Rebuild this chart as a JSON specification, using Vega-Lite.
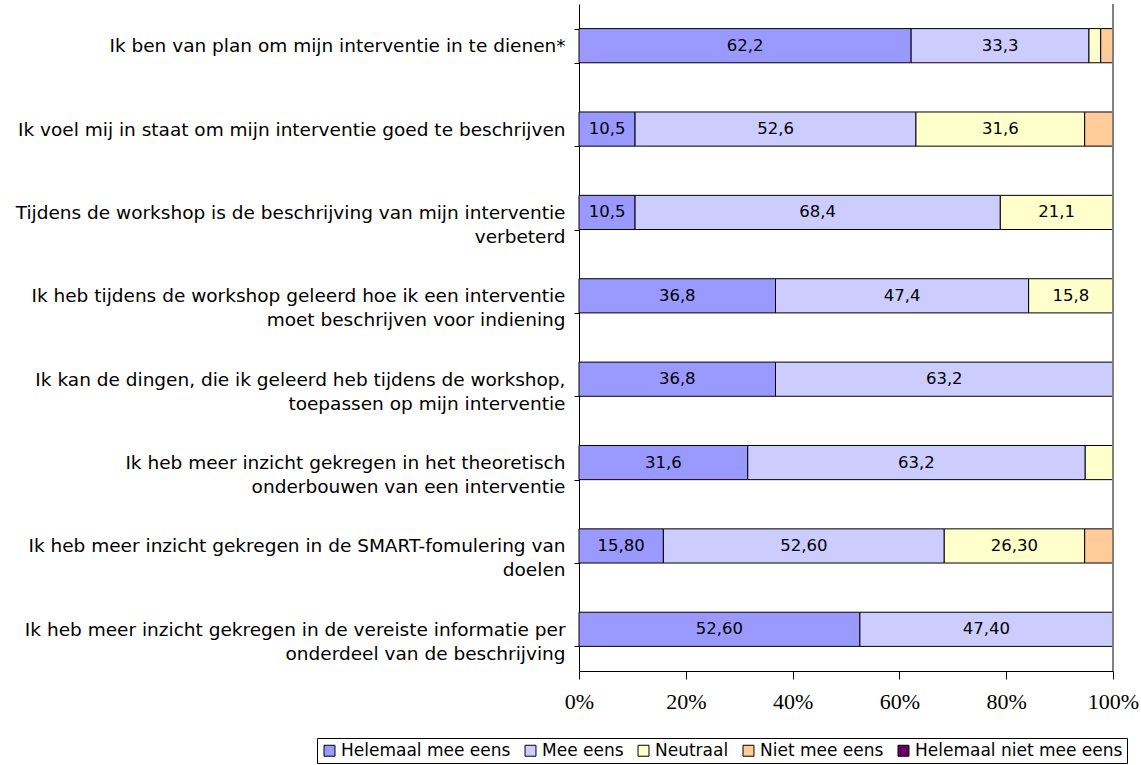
{
  "$schema": "https://vega.github.io/schema/vega-lite/v6.json",
  "autosize": "none",
  "width": 534,
  "height": 667,
  "padding": {"left": 579, "top": 4, "right": 28, "bottom": 94},
  "background": "white",
  "config": {"view": {"stroke": null}},
  "data": {"values": [
    {"cat": "Ik ben van plan om mijn interventie in te dienen*", "resp": "Helemaal mee eens", "ord": 1, "value": 62.2, "label": "62,2"},
    {"cat": "Ik ben van plan om mijn interventie in te dienen*", "resp": "Mee eens", "ord": 2, "value": 33.3, "label": "33,3"},
    {"cat": "Ik ben van plan om mijn interventie in te dienen*", "resp": "Neutraal", "ord": 3, "value": 2.2, "label": ""},
    {"cat": "Ik ben van plan om mijn interventie in te dienen*", "resp": "Niet mee eens", "ord": 4, "value": 2.3, "label": ""},
    {"cat": "Ik voel mij in staat om mijn interventie goed te beschrijven", "resp": "Helemaal mee eens", "ord": 1, "value": 10.5, "label": "10,5"},
    {"cat": "Ik voel mij in staat om mijn interventie goed te beschrijven", "resp": "Mee eens", "ord": 2, "value": 52.6, "label": "52,6"},
    {"cat": "Ik voel mij in staat om mijn interventie goed te beschrijven", "resp": "Neutraal", "ord": 3, "value": 31.6, "label": "31,6"},
    {"cat": "Ik voel mij in staat om mijn interventie goed te beschrijven", "resp": "Niet mee eens", "ord": 4, "value": 5.3, "label": ""},
    {"cat": "Tijdens de workshop is de beschrijving van mijn interventie|verbeterd", "resp": "Helemaal mee eens", "ord": 1, "value": 10.5, "label": "10,5"},
    {"cat": "Tijdens de workshop is de beschrijving van mijn interventie|verbeterd", "resp": "Mee eens", "ord": 2, "value": 68.4, "label": "68,4"},
    {"cat": "Tijdens de workshop is de beschrijving van mijn interventie|verbeterd", "resp": "Neutraal", "ord": 3, "value": 21.1, "label": "21,1"},
    {"cat": "Ik heb tijdens de workshop geleerd hoe ik een interventie|moet beschrijven voor indiening", "resp": "Helemaal mee eens", "ord": 1, "value": 36.8, "label": "36,8"},
    {"cat": "Ik heb tijdens de workshop geleerd hoe ik een interventie|moet beschrijven voor indiening", "resp": "Mee eens", "ord": 2, "value": 47.4, "label": "47,4"},
    {"cat": "Ik heb tijdens de workshop geleerd hoe ik een interventie|moet beschrijven voor indiening", "resp": "Neutraal", "ord": 3, "value": 15.8, "label": "15,8"},
    {"cat": "Ik kan de dingen, die ik geleerd heb tijdens de workshop,|toepassen op mijn interventie", "resp": "Helemaal mee eens", "ord": 1, "value": 36.8, "label": "36,8"},
    {"cat": "Ik kan de dingen, die ik geleerd heb tijdens de workshop,|toepassen op mijn interventie", "resp": "Mee eens", "ord": 2, "value": 63.2, "label": "63,2"},
    {"cat": "Ik heb meer inzicht gekregen in het theoretisch|onderbouwen van een interventie", "resp": "Helemaal mee eens", "ord": 1, "value": 31.6, "label": "31,6"},
    {"cat": "Ik heb meer inzicht gekregen in het theoretisch|onderbouwen van een interventie", "resp": "Mee eens", "ord": 2, "value": 63.2, "label": "63,2"},
    {"cat": "Ik heb meer inzicht gekregen in het theoretisch|onderbouwen van een interventie", "resp": "Neutraal", "ord": 3, "value": 5.2, "label": ""},
    {"cat": "Ik heb meer inzicht gekregen in de SMART-fomulering van|doelen", "resp": "Helemaal mee eens", "ord": 1, "value": 15.8, "label": "15,80"},
    {"cat": "Ik heb meer inzicht gekregen in de SMART-fomulering van|doelen", "resp": "Mee eens", "ord": 2, "value": 52.6, "label": "52,60"},
    {"cat": "Ik heb meer inzicht gekregen in de SMART-fomulering van|doelen", "resp": "Neutraal", "ord": 3, "value": 26.3, "label": "26,30"},
    {"cat": "Ik heb meer inzicht gekregen in de SMART-fomulering van|doelen", "resp": "Niet mee eens", "ord": 4, "value": 5.3, "label": ""},
    {"cat": "Ik heb meer inzicht gekregen in de vereiste informatie per|onderdeel van de beschrijving", "resp": "Helemaal mee eens", "ord": 1, "value": 52.6, "label": "52,60"},
    {"cat": "Ik heb meer inzicht gekregen in de vereiste informatie per|onderdeel van de beschrijving", "resp": "Mee eens", "ord": 2, "value": 47.4, "label": "47,40"}
  ]},
  "layer": [
    {
      "mark": {"type": "bar", "stroke": "black", "strokeWidth": 1},
      "encoding": {
        "y": {
          "field": "cat", "type": "nominal", "sort": null, "title": null,
          "scale": {"paddingInner": 0.59, "paddingOuter": 0.295},
          "axis": {
            "labelExpr": "split(datum.label, '|')",
            "labelFont": "DejaVu Sans", "labelFontSize": 18.5, "labelColor": "black",
            "labelLimit": 600, "labelLineHeight": 24, "labelPadding": 9,
            "tickBand": "extent", "tickSize": 5, "tickColor": "black",
            "domainColor": "black", "grid": false
          }
        },
        "x": {
          "field": "value", "type": "quantitative", "stack": "zero", "title": null,
          "scale": {"domain": [0, 100], "nice": false},
          "axis": {
            "values": [0, 20, 40, 60, 80, 100],
            "labelExpr": "datum.value + '%'",
            "labelFont": "Liberation Serif", "labelFontSize": 22, "labelColor": "black",
            "labelPadding": 12, "tickSize": 8, "tickColor": "black",
            "domainColor": "black", "grid": false, "labelFlush": false
          }
        },
        "order": {"field": "ord", "type": "quantitative"},
        "color": {
          "field": "resp", "type": "nominal",
          "scale": {
            "domain": ["Helemaal mee eens", "Mee eens", "Neutraal", "Niet mee eens", "Helemaal niet mee eens"],
            "range": ["#9999FF", "#CCCCFF", "#FFFFCC", "#FFCC99", "#660066"]
          },
          "legend": {
            "title": null, "orient": "none", "direction": "horizontal",
            "legendX": -262, "legendY": 734,
            "symbolType": "square", "symbolSize": 120, "symbolStrokeColor": "black", "symbolStrokeWidth": 1,
            "symbolOpacity": 1, "labelLimit": 400,
            "labelFont": "DejaVu Sans", "labelFontSize": 17, "labelColor": "black",
            "labelOffset": 3, "columnPadding": 11, "symbolOffset": 0,
            "strokeColor": "black", "padding": 4, "fillColor": "white"
          }
        }
      }
    },
    {
      "mark": {"type": "rule", "color": "#808080", "strokeWidth": 1},
      "encoding": {"x": {"datum": 100}}
    },
    {
      "transform": [{"filter": "datum.label != ''"}],
      "mark": {"type": "text", "font": "DejaVu Sans", "fontSize": 16.5, "color": "black", "baseline": "middle", "align": "center"},
      "encoding": {
        "y": {"field": "cat", "type": "nominal", "sort": null},
        "x": {"field": "value", "type": "quantitative", "stack": "zero", "bandPosition": 0.5},
        "order": {"field": "ord", "type": "quantitative"},
        "text": {"field": "label"}
      }
    }
  ]
}
